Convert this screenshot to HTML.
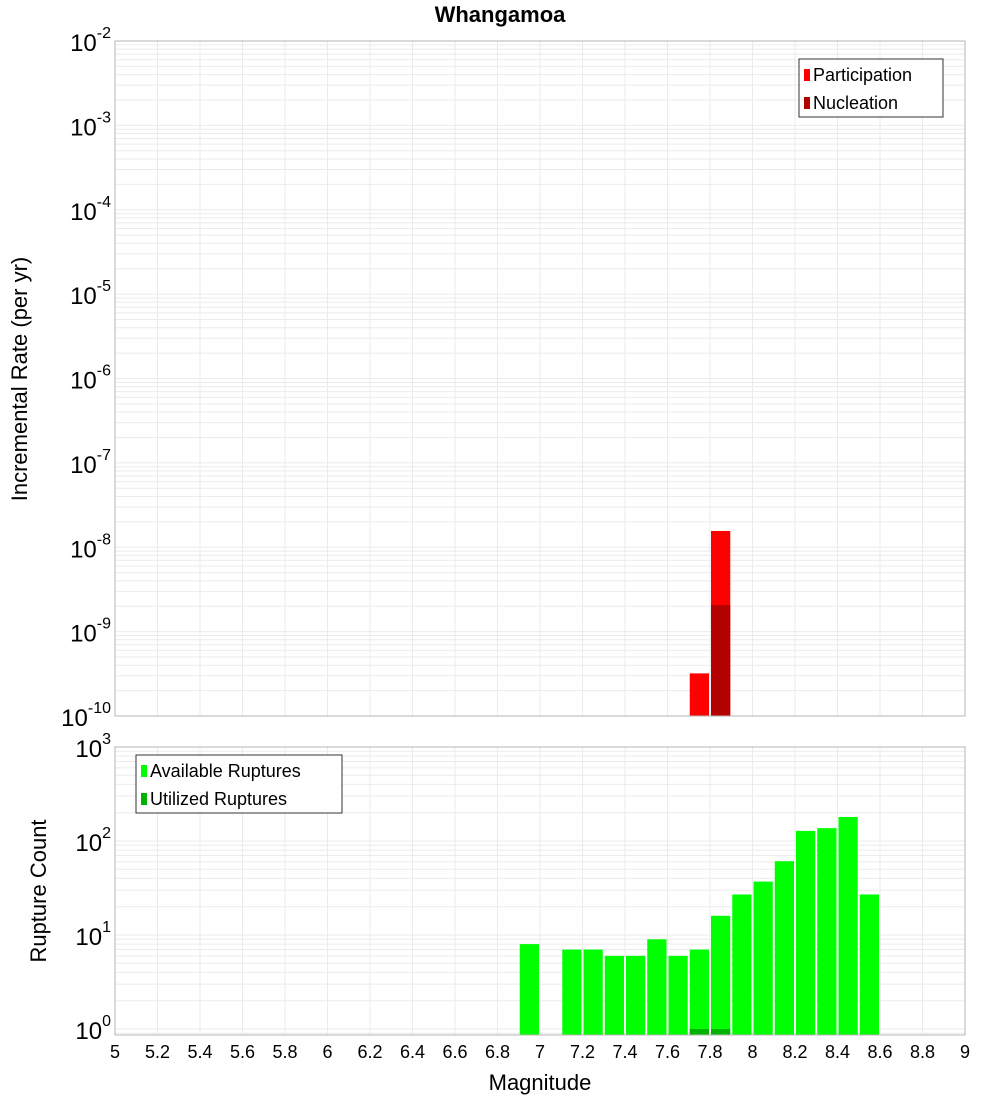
<!DOCTYPE html>
<html><head><meta charset="utf-8"><style>
body{margin:0;background:#fff}
svg text{font-family:"Liberation Sans","DejaVu Sans",sans-serif}
</style></head><body>
<svg id="chart" width="1000" height="1100" xmlns="http://www.w3.org/2000/svg"></svg>
<script>
const rateBins=[7.7,7.8];
const participation=[3.2e-10,1.56e-8];
const nucleation=[0,2.07e-9];
const countBins=[6.9,7.1,7.2,7.3,7.4,7.5,7.6,7.7,7.8,7.9,8.0,8.1,8.2,8.3,8.4,8.5];
const available=[8,7,7,6,6,9,6,7,16,27,37,61,128,137,180,27];
const utilBins=[7.7,7.8];
const utilized=[1,1];
const xTicks=[5,5.2,5.4,5.6,5.8,6,6.2,6.4,6.6,6.8,7,7.2,7.4,7.6,7.8,8,8.2,8.4,8.6,8.8,9];
const topExps=[-2,-3,-4,-5,-6,-7,-8,-9,-10];
const botExps=[3,2,1,0];

const svg=document.getElementById('chart');
const NS='http://www.w3.org/2000/svg';
function el(tag,attrs,parent){const e=document.createElementNS(NS,tag);for(const k in attrs)e.setAttribute(k,attrs[k]);(parent||svg).appendChild(e);return e;}
const X0=115,X1=965;
const x=v=>X0+(v-5)/4*(X1-X0);
const T0=41,T1=716;
const yT=v=>T0+(-2-Math.log10(v))*(T1-T0)/8;
const B0=747,B1=1035,BD=94;
const yB=v=>B0+(3-Math.log10(v))*BD;

function panel(top,bot,yf,lo,hi,name){
  const g=el('g',{});
  
  
  for(let e=lo;e<hi;e++)for(let m=1;m<10;m++){const v=m*Math.pow(10,e);const yy=yf(v);if(yy<top||yy>bot)continue;el('line',{x1:X0,x2:X1,y1:yy,y2:yy,stroke:'#ebebeb','stroke-width':1},g);}
  xTicks.forEach(t=>{el('line',{x1:x(t),x2:x(t),y1:top,y2:bot,stroke:'#ebebeb','stroke-width':1},g);});
}
function frame(top,bot,name){const r=el('rect',{x:X0,y:top,width:X1-X0,height:bot-top,fill:'none',stroke:'#b4b4b4','stroke-width':1});}
panel(T0,T1,yT,-10,-2,'top');
panel(B0,B1,yB,-1,3,'bottom');

// top bars
rateBins.forEach((b,i)=>{
  const r=el('rect',{x:x(b)+1,y:yT(participation[i]),width:x(b+0.1)-x(b)-2,height:T1-yT(participation[i]),fill:'#ff0000'});
  
  if(nucleation[i]>0){const n=el('rect',{x:x(b)+1,y:yT(nucleation[i]),width:x(b+0.1)-x(b)-2,height:T1-yT(nucleation[i]),fill:'#b30000'});
  }
});
countBins.forEach((b,i)=>{
  const r=el('rect',{x:x(b)+1,y:yB(available[i]),width:x(b+0.1)-x(b)-2,height:B1-yB(available[i]),fill:'#00ff00'});
  
});
utilBins.forEach((b,i)=>{
  const r=el('rect',{x:x(b)+1,y:yB(utilized[i]),width:x(b+0.1)-x(b)-2,height:B1-yB(utilized[i]),fill:'#00b300'});
  
});
frame(T0,T1,'top');frame(B0,B1,'bottom');

// y tick labels
function ylab(e,yy,name){const t=el('text',{x:111,y:yy+10,'text-anchor':'end','font-size':24,fill:'#000'});
  
  const a=el('tspan',{},t);a.textContent='10';const s=el('tspan',{dy:-13,'font-size':16},t);s.textContent=String(e);}
topExps.forEach(e=>ylab(e,yT(Math.pow(10,e)),'top-y-tick'));
botExps.forEach(e=>ylab(e,yB(Math.pow(10,e)),'bottom-y-tick'));
xTicks.forEach(t=>{const l=el('text',{x:x(t),y:1058,'text-anchor':'middle','font-size':18,fill:'#000'});l.textContent=String(t);
  });

function txt(s,a,name){const t=el('text',a);t.textContent=s;return t;}
txt('Whangamoa',{x:500,y:22,'text-anchor':'middle','font-size':22,'font-weight':'bold'},'chart-title');
txt('Magnitude',{x:540,y:1090,'text-anchor':'middle','font-size':22},'x-axis-title');
txt('Incremental Rate (per yr)',{x:0,y:0,'text-anchor':'middle','font-size':22,transform:'translate(27,379) rotate(-90)'},'top-y-axis-title');
txt('Rupture Count',{x:0,y:0,'text-anchor':'middle','font-size':22,transform:'translate(46,891) rotate(-90)'},'bottom-y-axis-title');

function legend(x0,y0,w,items,name){const g=el('g',{});
  el('rect',{x:x0,y:y0,width:w,height:58,fill:'#fff',stroke:'#333','stroke-width':1},g);
  items.forEach((it,i)=>{el('rect',{x:x0+5,y:y0+10+i*28,width:6,height:12,fill:it[1]},g);
    const t=el('text',{x:x0+14,y:y0+22+i*28,'font-size':18},g);t.textContent=it[0];});}
legend(799,59,144,[['Participation','#ff0000'],['Nucleation','#b30000']],'top-legend');
legend(136,755,206,[['Available Ruptures','#00ff00'],['Utilized Ruptures','#00b300']],'bottom-legend');
</script>
</body></html>
